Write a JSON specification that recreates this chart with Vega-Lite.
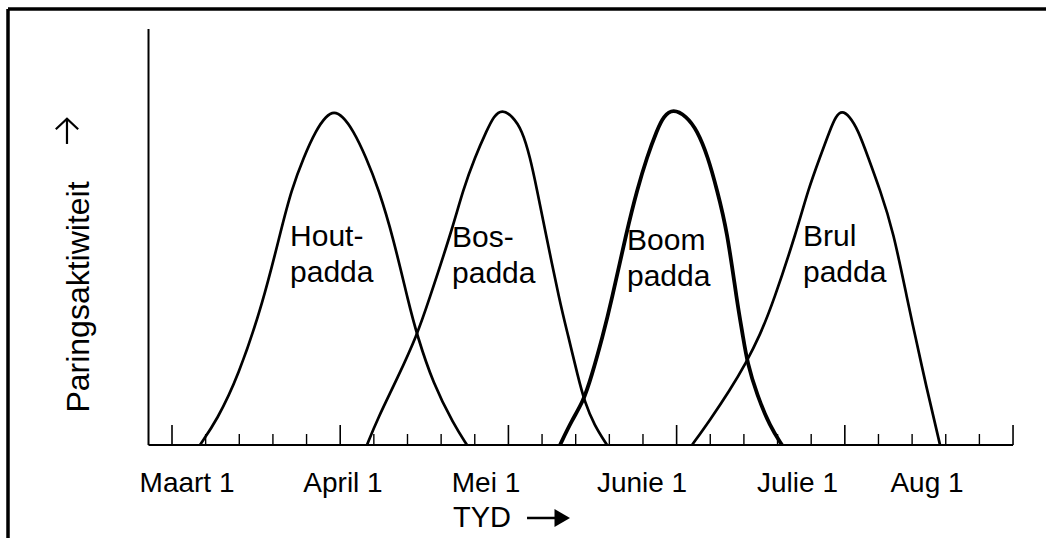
{
  "$schema": "https://vega.github.io/schema/vega-lite/v6.json",
  "width": 1038,
  "height": 529,
  "autosize": "none",
  "padding": {"left": 8, "top": 9, "right": 0, "bottom": 0},
  "background": "white",
  "config": {"view": {"stroke": null}, "text": {"font": "Liberation Sans", "color": "black"}},
  "datasets": {
    "curves": [
      {"name": "Houtpadda", "day": 4.99, "v": 0},
      {"name": "Houtpadda", "day": 8.03, "v": 7.51},
      {"name": "Houtpadda", "day": 11.77, "v": 20.42},
      {"name": "Houtpadda", "day": 16.23, "v": 42.64},
      {"name": "Houtpadda", "day": 19.44, "v": 64.56},
      {"name": "Houtpadda", "day": 21.29, "v": 76.58},
      {"name": "Houtpadda", "day": 23.5, "v": 86.49},
      {"name": "Houtpadda", "day": 25.7, "v": 94.59},
      {"name": "Houtpadda", "day": 27.5, "v": 98.8},
      {"name": "Houtpadda", "day": 28.89, "v": 100.2},
      {"name": "Houtpadda", "day": 30.4, "v": 98.8},
      {"name": "Houtpadda", "day": 32.28, "v": 94.59},
      {"name": "Houtpadda", "day": 34.6, "v": 86.49},
      {"name": "Houtpadda", "day": 36.9, "v": 76.58},
      {"name": "Houtpadda", "day": 39.42, "v": 62.5},
      {"name": "Houtpadda", "day": 42.2, "v": 42.64},
      {"name": "Houtpadda", "day": 43.7, "v": 33.03},
      {"name": "Houtpadda", "day": 46.55, "v": 18.5},
      {"name": "Houtpadda", "day": 50.3, "v": 6.0},
      {"name": "Houtpadda", "day": 52.62, "v": 0},
      {"name": "Bospadda", "day": 34.78, "v": 0},
      {"name": "Bospadda", "day": 36.56, "v": 7.51},
      {"name": "Bospadda", "day": 40.31, "v": 20.42},
      {"name": "Bospadda", "day": 43.7, "v": 33.03},
      {"name": "Bospadda", "day": 45.66, "v": 42.64},
      {"name": "Bospadda", "day": 49.94, "v": 64.56},
      {"name": "Bospadda", "day": 51.9, "v": 76.58},
      {"name": "Bospadda", "day": 54.04, "v": 86.49},
      {"name": "Bospadda", "day": 56.18, "v": 94.59},
      {"name": "Bospadda", "day": 57.4, "v": 98.8},
      {"name": "Bospadda", "day": 58.86, "v": 100.8},
      {"name": "Bospadda", "day": 60.7, "v": 98.8},
      {"name": "Bospadda", "day": 62.43, "v": 94.59},
      {"name": "Bospadda", "day": 63.86, "v": 86.49},
      {"name": "Bospadda", "day": 65.11, "v": 76.58},
      {"name": "Bospadda", "day": 66.53, "v": 64.56},
      {"name": "Bospadda", "day": 69.2, "v": 42.64},
      {"name": "Bospadda", "day": 70.63, "v": 33.03},
      {"name": "Bospadda", "day": 72.41, "v": 20.42},
      {"name": "Bospadda", "day": 73.6, "v": 12.91},
      {"name": "Bospadda", "day": 75.3, "v": 6.0},
      {"name": "Bospadda", "day": 77.59, "v": 0},
      {"name": "Boompadda", "day": 69.2, "v": 0},
      {"name": "Boompadda", "day": 71.34, "v": 7.51},
      {"name": "Boompadda", "day": 73.31, "v": 12.91},
      {"name": "Boompadda", "day": 74.8, "v": 20.42},
      {"name": "Boompadda", "day": 76.87, "v": 33.03},
      {"name": "Boompadda", "day": 78.3, "v": 42.64},
      {"name": "Boompadda", "day": 81.15, "v": 64.56},
      {"name": "Boompadda", "day": 82.94, "v": 76.58},
      {"name": "Boompadda", "day": 84.72, "v": 86.49},
      {"name": "Boompadda", "day": 86.5, "v": 94.59},
      {"name": "Boompadda", "day": 87.7, "v": 98.8},
      {"name": "Boompadda", "day": 89.36, "v": 101.0},
      {"name": "Boompadda", "day": 91.7, "v": 98.8},
      {"name": "Boompadda", "day": 93.64, "v": 94.59},
      {"name": "Boompadda", "day": 95.6, "v": 86.49},
      {"name": "Boompadda", "day": 97.21, "v": 76.58},
      {"name": "Boompadda", "day": 98.99, "v": 64.56},
      {"name": "Boompadda", "day": 100.8, "v": 42.64},
      {"name": "Boompadda", "day": 101.8, "v": 33.03},
      {"name": "Boompadda", "day": 102.6, "v": 24.62},
      {"name": "Boompadda", "day": 104.34, "v": 15.0},
      {"name": "Boompadda", "day": 106.66, "v": 5.5},
      {"name": "Boompadda", "day": 108.8, "v": 0},
      {"name": "Brulpadda", "day": 92.75, "v": 0},
      {"name": "Brulpadda", "day": 95.96, "v": 7.51},
      {"name": "Brulpadda", "day": 99.52, "v": 16.52},
      {"name": "Brulpadda", "day": 102.38, "v": 24.62},
      {"name": "Brulpadda", "day": 104.87, "v": 33.03},
      {"name": "Brulpadda", "day": 107.19, "v": 42.64},
      {"name": "Brulpadda", "day": 111.47, "v": 64.56},
      {"name": "Brulpadda", "day": 113.44, "v": 76.58},
      {"name": "Brulpadda", "day": 115.58, "v": 86.49},
      {"name": "Brulpadda", "day": 117.36, "v": 94.59},
      {"name": "Brulpadda", "day": 118.4, "v": 98.8},
      {"name": "Brulpadda", "day": 119.5, "v": 100.4},
      {"name": "Brulpadda", "day": 120.8, "v": 98.8},
      {"name": "Brulpadda", "day": 122.36, "v": 94.59},
      {"name": "Brulpadda", "day": 124.14, "v": 86.49},
      {"name": "Brulpadda", "day": 126.28, "v": 76.58},
      {"name": "Brulpadda", "day": 128.6, "v": 64.56},
      {"name": "Brulpadda", "day": 131.27, "v": 42.64},
      {"name": "Brulpadda", "day": 132.52, "v": 33.03},
      {"name": "Brulpadda", "day": 134.66, "v": 16.52},
      {"name": "Brulpadda", "day": 136.09, "v": 6.5},
      {"name": "Brulpadda", "day": 136.98, "v": 0}
    ],
    "ticks": [
      {"day": 0, "kind": "major"}, {"day": 6, "kind": "minor"}, {"day": 12, "kind": "minor"}, {"day": 18, "kind": "minor"}, {"day": 24, "kind": "minor"},
      {"day": 30, "kind": "major"}, {"day": 36, "kind": "minor"}, {"day": 42, "kind": "minor"}, {"day": 48, "kind": "minor"}, {"day": 54, "kind": "minor"},
      {"day": 60, "kind": "major"}, {"day": 66, "kind": "minor"}, {"day": 72, "kind": "minor"}, {"day": 78, "kind": "minor"}, {"day": 84, "kind": "minor"},
      {"day": 90, "kind": "major"}, {"day": 96, "kind": "minor"}, {"day": 102, "kind": "minor"}, {"day": 108, "kind": "minor"}, {"day": 114, "kind": "minor"},
      {"day": 120, "kind": "major"}, {"day": 126, "kind": "minor"}, {"day": 132, "kind": "minor"}, {"day": 138, "kind": "minor"}, {"day": 144, "kind": "minor"},
      {"day": 150, "kind": "major"}
    ],
    "months": [
      {"label": "Maart 1", "day": 2.68},
      {"label": "April 1", "day": 30.5},
      {"label": "Mei 1", "day": 56.0},
      {"label": "Junie 1", "day": 83.83},
      {"label": "Julie 1", "day": 111.56},
      {"label": "Aug 1", "day": 134.66}
    ],
    "names": [
      {"text": "Hout-\npadda", "day": 21.05, "v": 59.85},
      {"text": "Bos-\npadda", "day": 49.94, "v": 59.55},
      {"text": "Boom\npadda", "day": 81.15, "v": 58.56},
      {"text": "Brul\npadda", "day": 112.54, "v": 59.76}
    ]
  },
  "layer": [
    {
      "data": {"values": [{}]},
      "mark": {"type": "rule", "color": "black", "strokeWidth": 3.5},
      "encoding": {
        "x": {"datum": -29.25, "type": "quantitative", "scale": {"type": "linear", "domain": [-29.25, 155.88], "zero": false, "nice": false}, "axis": null},
        "y": {"datum": -27.93, "type": "quantitative", "scale": {"type": "linear", "domain": [-27.93, 130.93], "zero": false, "nice": false}, "axis": null},
        "y2": {"datum": 130.93}
      }
    },
    {
      "data": {"values": [{}]},
      "mark": {"type": "rule", "color": "black", "strokeWidth": 3.5},
      "encoding": {
        "x": {"datum": -29.25, "type": "quantitative", "axis": null},
        "x2": {"datum": 155.88},
        "y": {"datum": 130.93, "type": "quantitative", "axis": null}
      }
    },
    {
      "data": {"values": [{}]},
      "mark": {"type": "rule", "color": "black", "strokeWidth": 2},
      "encoding": {
        "x": {"datum": -4.19, "type": "quantitative", "axis": null},
        "y": {"datum": 0, "type": "quantitative", "axis": null},
        "y2": {"datum": 124.9}
      }
    },
    {
      "data": {"values": [{}]},
      "mark": {"type": "rule", "color": "black", "strokeWidth": 2},
      "encoding": {
        "x": {"datum": -4.19, "type": "quantitative", "axis": null},
        "x2": {"datum": 150.0},
        "y": {"datum": 0, "type": "quantitative", "axis": null}
      }
    },
    {
      "data": {"name": "ticks"},
      "transform": [{"filter": "datum.kind === 'major'"}],
      "mark": {"type": "rule", "color": "black", "strokeWidth": 1.6},
      "encoding": {
        "x": {"field": "day", "type": "quantitative", "axis": null},
        "y": {"datum": 0, "type": "quantitative", "axis": null},
        "y2": {"datum": 6.0}
      }
    },
    {
      "data": {"name": "ticks"},
      "transform": [{"filter": "datum.kind === 'minor'"}],
      "mark": {"type": "rule", "color": "black", "strokeWidth": 1.4},
      "encoding": {
        "x": {"field": "day", "type": "quantitative", "axis": null},
        "y": {"datum": 0, "type": "quantitative", "axis": null},
        "y2": {"datum": 3.3}
      }
    },
    {
      "data": {"name": "curves"},
      "mark": {"type": "line", "color": "black", "interpolate": "basis"},
      "encoding": {
        "x": {"field": "day", "type": "quantitative", "axis": null},
        "y": {"field": "v", "type": "quantitative", "axis": null},
        "detail": {"field": "name"},
        "strokeWidth": {"condition": {"test": "datum.name === 'Boompadda'", "value": 3.8}, "value": 2.7}
      }
    },
    {
      "data": {"name": "months"},
      "mark": {"type": "text", "fontSize": 28, "align": "center", "baseline": "alphabetic"},
      "encoding": {
        "x": {"field": "day", "type": "quantitative", "axis": null},
        "y": {"datum": -14.11, "type": "quantitative", "axis": null},
        "text": {"field": "label"}
      }
    },
    {
      "data": {"name": "names"},
      "mark": {"type": "text", "fontSize": 30, "align": "left", "baseline": "alphabetic", "lineBreak": "\n", "lineHeight": 36},
      "encoding": {
        "x": {"field": "day", "type": "quantitative", "axis": null},
        "y": {"field": "v", "type": "quantitative", "axis": null},
        "text": {"field": "text"}
      }
    },
    {
      "data": {"values": [{}]},
      "mark": {"type": "text", "fontSize": 29, "align": "left", "baseline": "alphabetic", "text": "TYD"},
      "encoding": {
        "x": {"datum": 50.12, "type": "quantitative", "axis": null},
        "y": {"datum": -24.62, "type": "quantitative", "axis": null}
      }
    },
    {
      "data": {"values": [{}]},
      "mark": {"type": "rule", "color": "black", "strokeWidth": 2.5},
      "encoding": {
        "x": {"datum": 63.32, "type": "quantitative", "axis": null},
        "x2": {"datum": 68.5},
        "y": {"datum": -21.92, "type": "quantitative", "axis": null}
      }
    },
    {
      "data": {"values": [{}]},
      "mark": {"type": "point", "shape": "triangle-right", "filled": true, "color": "black", "size": 320, "opacity": 1},
      "encoding": {
        "x": {"datum": 69.6, "type": "quantitative", "axis": null},
        "y": {"datum": -21.92, "type": "quantitative", "axis": null}
      }
    },
    {
      "data": {"values": [{}]},
      "mark": {"type": "text", "fontSize": 32, "align": "center", "baseline": "alphabetic", "angle": 270, "text": "Paringsaktiwiteit"},
      "encoding": {
        "x": {"datum": -14.8, "type": "quantitative", "axis": null},
        "y": {"datum": 44.44, "type": "quantitative", "axis": null}
      }
    },
    {
      "data": {"values": [{}]},
      "mark": {"type": "rule", "color": "black", "strokeWidth": 2.2},
      "encoding": {
        "x": {"datum": -18.73, "type": "quantitative", "axis": null},
        "y": {"datum": 90.4, "type": "quantitative", "axis": null},
        "y2": {"datum": 98.0}
      }
    },
    {
      "data": {"values": [{}]},
      "mark": {"type": "point", "shape": "M -1 0.95 L 0 0 L 1 0.95", "filled": false, "color": "black", "strokeWidth": 2.2, "size": 500, "opacity": 1},
      "encoding": {
        "x": {"datum": -18.73, "type": "quantitative", "axis": null},
        "y": {"datum": 98.0, "type": "quantitative", "axis": null}
      }
    }
  ]
}
